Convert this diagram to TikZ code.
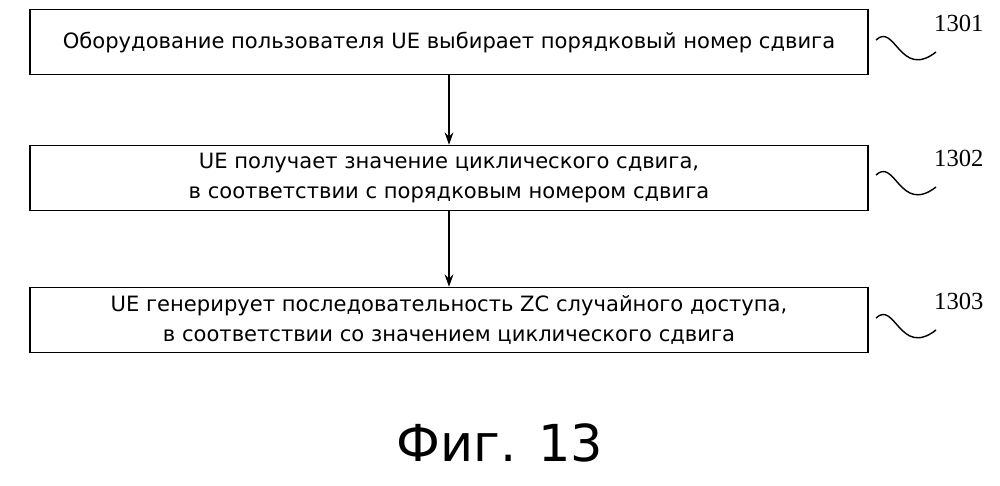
\documentclass[tikz,border=0pt]{standalone}
\usepackage{fontspec}
\setmainfont{DejaVu Sans}
\newfontfamily\numfont{Liberation Serif}
\usetikzlibrary{positioning,arrows.meta}

\begin{document}
\begin{tikzpicture}[x=0.02cm,y=-0.02cm,
  stepbox/.style={draw,line width=0.9pt,minimum width=16.76cm,minimum height=1.3cm,align=center,
    font=\fontsize{12}{17}\selectfont},
  flow/.style={-{Stealth[length=7pt,width=5pt]},line width=0.9pt},
  squig/.style={line width=0.8pt},
  ref/.style={font=\fontsize{14}{16}\selectfont\numfont}]
  \useasboundingbox (0,0) rectangle (1000,485);

  %% Steps
  \node[stepbox] (S1) at (449,42) {Оборудование пользователя UE выбирает порядковый номер сдвига};
  \node[stepbox] (S2) at (449,178) {UE получает значение циклического сдвига,\\в соответствии с порядковым номером сдвига};
  \node[stepbox] (S3) at (449,320) {UE генерирует последовательность ZC случайного доступа,\\в соответствии со значением циклического сдвига};

  \draw[flow] (S1) -- (S2);
  \draw[flow] (S2) -- (S3);

  %% Reference squiggles and numbers
  \foreach \n/\y in {1/40,2/175,3/318}
  {
    \coordinate (A\n) at (876,\y);
    \coordinate (B\n) at (936,\y+12);
    \draw[squig] (A\n) .. controls (895,\y-18) and (900,\y+40) .. (B\n);
    \node[ref,anchor=south west] (L\n) at (928,\y-2) {130\n};
  }

  %% Caption
  \node[font=\fontsize{29}{34}\selectfont] (FIG) at (500,443) {Фиг. 13};
\end{tikzpicture}
\end{document}
